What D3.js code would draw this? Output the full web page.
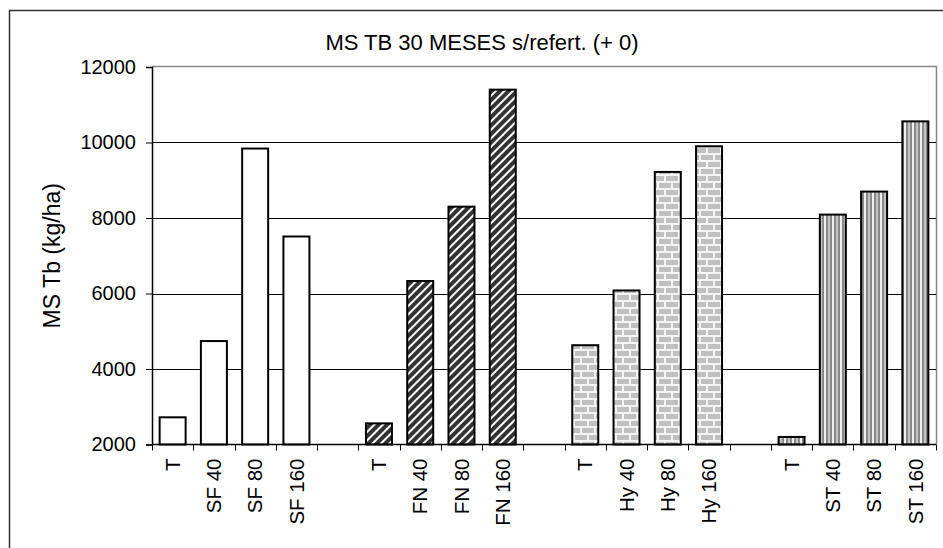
<!DOCTYPE html>
<html>
<head>
<meta charset="utf-8">
<script src="https://cdn.jsdelivr.net/npm/d3@7"></script>
<style>
  body { margin: 0; background: #fff; }
  text { font-family: "Liberation Sans", Arial, sans-serif; fill: #000; }
</style>
</head>
<body>
<script>
var categories = ["T", "SF 40", "SF 80", "SF 160", "",
                  "T", "FN 40", "FN 80", "FN 160", "",
                  "T", "Hy 40", "Hy 80", "Hy 160", "",
                  "T", "ST 40", "ST 80", "ST 160"];
var groups = ["SF", "FN", "Hy", "ST"];
var sfValues = [2720, 4740, 9840, 7510];
var fnValues = [2560, 6330, 8300, 11400];
var hyValues = [4630, 6080, 9220, 9900];
var stValues = [2200, 8090, 8700, 10560];
var yTicks = [2000, 4000, 6000, 8000, 10000, 12000];

var groupValues = [sfValues, fnValues, hyValues, stValues];

// one slot per category, every 5th slot is an empty gap
var slots = categories.map(function(c, i) {
  var g = Math.floor(i / 5), k = i % 5;
  return {id: "s" + i, label: c, group: groups[g], value: k < 4 ? groupValues[g][k] : null};
});

var W = 943, H = 548;
var pLeft = 152, pRight = 936, pTop = 67, pBottom = 444.5;

var svg = d3.select("body")
  .append("svg")
    .attr("width", W)
    .attr("height", H);

// patterns
var defs = svg.append("defs");

var pFN = defs.append("pattern")
    .attr("id", "pFN")
    .attr("patternUnits", "userSpaceOnUse")
    .attr("width", 6).attr("height", 6)
    .attr("patternTransform", "rotate(45)");
pFN.append("rect").attr("width", 6).attr("height", 6).attr("fill", "#333");
pFN.append("rect").attr("x", 0).attr("width", 2).attr("height", 6).attr("fill", "#fff");

var pHy = defs.append("pattern")
    .attr("id", "pHy")
    .attr("patternUnits", "userSpaceOnUse")
    .attr("width", 14).attr("height", 14);
pHy.append("rect").attr("width", 14).attr("height", 14).attr("fill", "#f4f4f4");
pHy.append("rect").attr("x", 1).attr("y", 1).attr("width", 12).attr("height", 5).attr("fill", "#c0c0c0");
pHy.append("rect").attr("x", -6).attr("y", 8).attr("width", 12).attr("height", 5).attr("fill", "#c0c0c0");
pHy.append("rect").attr("x", 8).attr("y", 8).attr("width", 12).attr("height", 5).attr("fill", "#c0c0c0");

var pST = defs.append("pattern")
    .attr("id", "pST")
    .attr("patternUnits", "userSpaceOnUse")
    .attr("width", 8).attr("height", 8);
pST.append("rect").attr("width", 8).attr("height", 8).attr("fill", "#f0f0f0");
pST.append("rect").attr("x", 2).attr("width", 2).attr("height", 8).attr("fill", "#8a8a8a");
pST.append("rect").attr("x", 4).attr("width", 2).attr("height", 8).attr("fill", "#c4c4c4");
pST.append("rect").attr("x", 6).attr("width", 2).attr("height", 8).attr("fill", "#8a8a8a");

var fills = {SF: "#fff", FN: "url(#pFN)", Hy: "url(#pHy)", ST: "url(#pST)"};

// outer chart border
svg.append("rect")
    .attr("x", 9.5).attr("y", 10.5)
    .attr("width", 960).attr("height", 560)
    .attr("fill", "none")
    .attr("stroke", "#333")
    .attr("stroke-width", 1.5);

var x = d3.scaleBand()
    .domain(slots.map(function(d) { return d.id; }))
    .range([pLeft, pRight])
    .paddingInner(0)
    .paddingOuter(0);

var y = d3.scaleLinear()
    .domain([2000, 12000])
    .range([pBottom, pTop]);

// plot area border (top/right grey)
svg.append("path")
    .attr("d", "M" + pLeft + "," + (pTop - 0.5) + "H" + (pRight + 0.5) + "V" + pBottom)
    .attr("fill", "none")
    .attr("stroke", "#888")
    .attr("stroke-width", 1.5);

// gridlines
svg.selectAll("line.grid")
    .data(yTicks.slice(1, -1))
  .enter().append("line")
    .attr("class", "grid")
    .attr("x1", pLeft).attr("x2", pRight)
    .attr("y1", function(d) { return Math.round(y(d)) + 0.5; })
    .attr("y2", function(d) { return Math.round(y(d)) + 0.5; })
    .attr("stroke", "#000")
    .attr("stroke-width", 1);

// bars
var bw = x.bandwidth() * 0.63;
svg.selectAll("rect.bar")
    .data(slots.filter(function(d) { return d.value !== null; }))
  .enter().append("rect")
    .attr("class", "bar")
    .attr("x", function(d) { return x(d.id) + (x.bandwidth() - bw) / 2; })
    .attr("y", function(d) { return y(d.value); })
    .attr("width", bw)
    .attr("height", function(d) { return y(2000) - y(d.value); })
    .attr("fill", function(d) { return fills[d.group]; })
    .attr("stroke", "#000")
    .attr("stroke-width", 2);

// y axis
var yAxis = svg.append("g")
    .attr("transform", "translate(" + pLeft + ",0)")
    .call(d3.axisLeft(y).tickValues(yTicks).tickFormat(d3.format("d")).tickSize(6).tickPadding(10));
yAxis.select(".domain").attr("stroke", "#000").attr("stroke-width", 1.5);
yAxis.selectAll(".tick line").attr("stroke", "#000");
yAxis.selectAll("text").style("font-size", "20px");

// x axis: line, ticks at slot boundaries, rotated labels
svg.append("line")
    .attr("x1", pLeft).attr("x2", pRight)
    .attr("y1", pBottom).attr("y2", pBottom)
    .attr("stroke", "#000").attr("stroke-width", 1.5);

var bounds = slots.map(function(d) { return x(d.id); }).concat([pRight]);
svg.selectAll("line.xtick")
    .data(bounds)
  .enter().append("line")
    .attr("class", "xtick")
    .attr("x1", function(d) { return Math.round(d) + 0.5; })
    .attr("x2", function(d) { return Math.round(d) + 0.5; })
    .attr("y1", pBottom).attr("y2", pBottom + 6)
    .attr("stroke", "#000");

svg.selectAll("text.xlab")
    .data(slots.filter(function(d) { return d.label !== ""; }))
  .enter().append("text")
    .attr("class", "xlab")
    .attr("transform", function(d) {
      return "translate(" + (x(d.id) + x.bandwidth() / 2) + "," + (pBottom + 14) + ") rotate(-90)";
    })
    .attr("dy", "0.35em")
    .attr("text-anchor", "end")
    .style("font-size", "20.5px")
    .text(function(d) { return d.label; });

// titles
svg.append("text")
    .attr("x", 482).attr("y", 42)
    .attr("dy", "0.35em")
    .attr("text-anchor", "middle")
    .style("font-size", "22px")
    .text("MS TB 30 MESES s/refert. (+ 0)");

svg.append("text")
    .attr("transform", "translate(52," + ((pTop + pBottom) / 2) + ") rotate(-90)")
    .attr("dy", "0.35em")
    .attr("text-anchor", "middle")
    .style("font-size", "23px")
    .text("MS Tb (kg/ha)");
</script>
</body>
</html>
